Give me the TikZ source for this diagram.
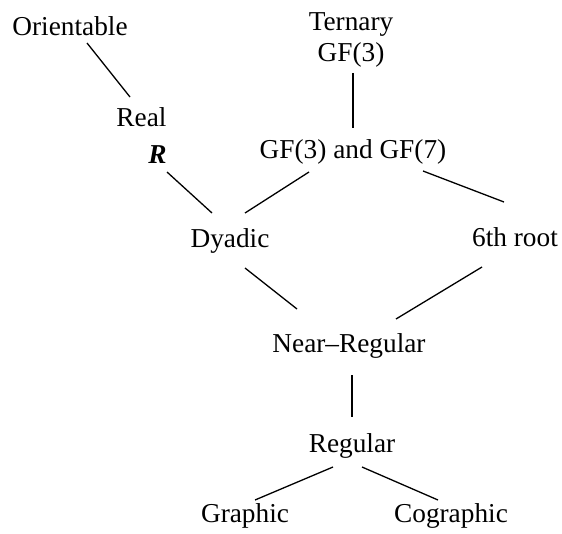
\documentclass[tikz,border=0pt]{standalone}
\usepackage{fontspec}
\setmainfont{Liberation Serif}

\begin{document}
\begin{tikzpicture}[
        x = 1pt, y = -1pt,
        every node/.style = {inner sep=0pt, outer sep=0pt, font=\fontsize{27.3}{31}\selectfont, anchor=base},
        edge/.style = {line width=1.3pt}
    ]
    \useasboundingbox (0,0) rectangle (562,533);
        \node (orient)  at (70,35)      {Orientable};
        \node (ternary) [anchor=north, align=center] at (351,12.9) {Ternary\\GF(3)};
%
        \node (real)    [anchor=north, align=right] at (141.5,107.4) {Real\\[6pt]{\bfseries\itshape R}};
        \node (gf37)    at (353,158)    {GF(3) and GF(7)};
%
        \node (dyadic)  at (230,247)    {Dyadic};
        \node (sixth)   at (515,246)    {6th root};
%
        \node (nearreg) at (349,352)    {Near--Regular};
        \node (regular) at (352,452)    {Regular};
%
        \node (graphic)   at (245,522)  {Graphic};
        \node (cographic) at (451,522)  {Cographic};
%
        \draw[edge] ([xshift=17pt,yshift=-8pt]orient.base) -- ([xshift=-11.5pt,yshift=10.4pt]real.north);
        \draw[edge] ([xshift=2pt,yshift=-60pt]ternary.north) -- ([yshift=30pt]gf37.base);
        \draw[edge] ([xshift=25.5pt,yshift=-64.6pt]real.north) -- ([xshift=-18pt,yshift=34pt]dyadic.base);
        \draw[edge] ([xshift=-44pt,yshift=-14pt]gf37.base) -- ([xshift=15pt,yshift=34pt]dyadic.base);
        \draw[edge] ([xshift=70pt,yshift=-13pt]gf37.base) -- ([xshift=-11pt,yshift=44pt]sixth.base);
        \draw[edge] ([xshift=15pt,yshift=-21pt]dyadic.base) -- ([xshift=-52pt,yshift=43pt]nearreg.base);
        \draw[edge] ([xshift=-33pt,yshift=-21pt]sixth.base) -- ([xshift=47pt,yshift=33pt]nearreg.base);
        \draw[edge] ([xshift=3pt,yshift=-23pt]nearreg.base) -- ([yshift=35pt]regular.base);
        \draw[edge] ([xshift=-19pt,yshift=-15pt]regular.base) -- ([xshift=10pt,yshift=22pt]graphic.base);
        \draw[edge] ([xshift=10pt,yshift=-15pt]regular.base) -- ([xshift=-13pt,yshift=22pt]cographic.base);
    \end{tikzpicture}
\end{document}
